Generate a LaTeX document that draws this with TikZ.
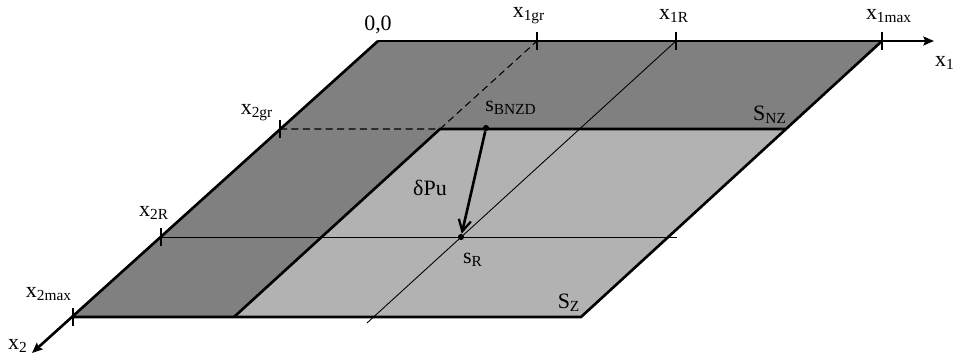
\documentclass[tikz,border=0pt]{standalone}
\usepackage{fontspec}
\setmainfont{Liberation Serif}
\usetikzlibrary{arrows.meta}
\definecolor{darkzone}{RGB}{128,128,128}
\definecolor{lightzone}{RGB}{178,178,178}
\begin{document}
\begin{tikzpicture}[x=0.02cm,y=-0.02cm,
  edge/.style={line width=1.5pt, line join=miter},
  thinline/.style={line width=0.5pt},
  dashline/.style={line width=0.6pt, dash pattern=on 4pt off 2.5pt},
  axisline/.style={line width=1.5pt, -{Stealth[length=6pt,width=5pt,inset=1pt]}},
  tickmark/.style={line width=0.6pt},
  lbl/.style={inner sep=0pt, font=\fontsize{12.5pt}{15pt}\selectfont},
  pt/.style={circle, fill=black, inner sep=0pt, minimum size=3.5pt}
]
\useasboundingbox (0,0) rectangle (960,358);
% corners and marks
\coordinate (O) at (378,41);
\coordinate (A1) at (882,41);
\coordinate (BR) at (581,317);
\coordinate (BL) at (73,317);
\coordinate (X2gr) at (280,129);
\coordinate (X2R) at (161,237);
\coordinate (X1gr) at (537,41);
\coordinate (X1R) at (676,41);
\coordinate (LTL) at (440,129);
\coordinate (LTR) at (785,129);
\coordinate (LBL) at (234,317);
\coordinate (X1end) at (934,41);
\coordinate (X2end) at (32,353);
\coordinate (X1Rend) at (367,323);
\coordinate (X2Rend) at (677,237);
% fills
\fill[darkzone] (O) -- (A1) -- (BR) -- (BL) -- cycle;
\fill[lightzone] (LTL) -- (LTR) -- (BR) -- (LBL) -- cycle;
% thin lines
\draw[thinline] (X1R) -- (X1Rend);
\draw[thinline] (X2R) -- (X2Rend);
% dashed
\draw[dashline] (X2gr) -- (LTL) -- (X1gr);
% thick edges
\draw[edge] (A1) -- (BR) -- (BL);
\draw[edge] (LTR) -- (LTL) -- (LBL);
% axes
\draw[axisline] (O) -- (X1end);
\draw[axisline] (O) -- (X2end);
% ticks
\foreach \c in {X1gr,X1R,A1,X2gr,X2R,BL}
  \draw[tickmark] ([yshift=-9*0.02cm]\c) -- ([yshift=9*0.02cm]\c);
% points
\node[pt] (sB) at (486,128) {};
\node[pt] (sR) at (461,237) {};
\draw[line width=1.5pt, -{Straight Barb[length=6.5pt,width=7pt,line width=1.3pt]}] (sB) -- (sR);
% labels
\node[lbl] (l00) at (378,25) {0,0};
\node[lbl] (l1gr) at (529,16) {x\textsubscript{1gr}};
\node[lbl] (l1R) at (674,16) {x\textsubscript{1R}};
\node[lbl] (l1max) at (889,16) {x\textsubscript{1max}};
\node[lbl] (l1) at (945,63) {x\textsubscript{1}};
\node[lbl] (l2gr) at (257,113) {x\textsubscript{2gr}};
\node[lbl] (lsB) at (511,108) {s\textsubscript{BNZD}};
\node[lbl] (lSNZ) at (770,115) {S\textsubscript{NZ}};
\node[lbl] (ldP) at (430,188) {δPu};
\node[lbl] (l2R) at (154,213) {x\textsubscript{2R}};
\node[lbl] (lsR) at (473,260) {s\textsubscript{R}};
\node[lbl] (l2max) at (49,294) {x\textsubscript{2max}};
\node[lbl] (l2) at (18,346) {x\textsubscript{2}};
\node[lbl] (lSZ) at (569,303) {S\textsubscript{Z}};
\end{tikzpicture}
\end{document}
